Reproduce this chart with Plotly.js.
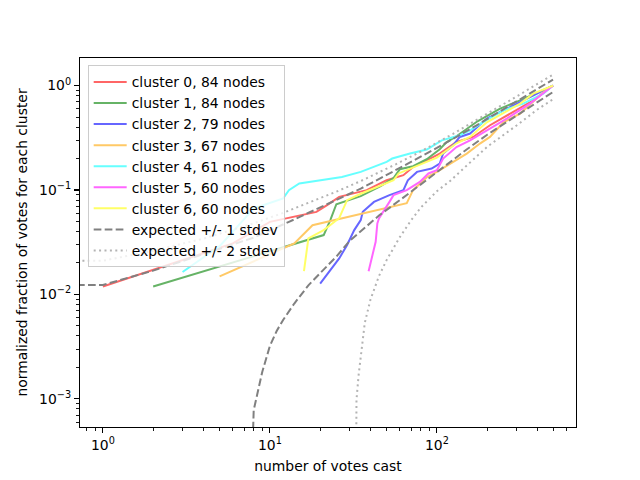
<!DOCTYPE html>
<html>
<head>
<meta charset="utf-8">
<script src="https://cdn.plot.ly/plotly-3.0.1.min.js"></script>
<style>
  body { margin: 0; background: white; }
  #chart { width: 640px; height: 480px; }
</style>
</head>
<body>
<div id="chart"></div>
<script>
// cumulative votes per cluster, normalized by cluster size
let clusterNames = ['cluster 0, 84 nodes', 'cluster 1, 84 nodes', 'cluster 2, 79 nodes', 'cluster 3, 67 nodes',
    'cluster 4, 61 nodes', 'cluster 5, 60 nodes', 'cluster 6, 60 nodes']
let clusterColors = ['rgb(255,102,102)', 'rgb(102,179,102)', 'rgb(102,102,255)', 'rgb(255,201,102)',
    'rgb(102,255,255)', 'rgb(255,102,255)', 'rgb(255,255,102)']

let c0_x = [1, 3, 6, 10, 19, 22, 26, 38, 50, 63, 72, 91, 104, 131, 165, 208, 274, 378, 496]
let c0_y = [0.0119, 0.0213, 0.0308, 0.0495, 0.0617, 0.0716, 0.0859, 0.0996, 0.124, 0.1386, 0.166, 0.2, 0.2233, 0.288, 0.322, 0.417, 0.539, 0.722, 1.0]

let c1_x = [2, 21, 23, 25, 35, 46, 55, 60, 72, 87, 104, 114, 131, 175, 239, 315, 496]
let c1_y = [0.0119, 0.037, 0.0515, 0.0731, 0.0873, 0.1087, 0.1297, 0.158, 0.169, 0.197, 0.2455, 0.286, 0.327, 0.455, 0.601, 0.722, 1.0]

let c2_x = [20, 26, 29, 32, 35, 36, 42, 52, 63, 67, 76, 93, 104, 109, 125, 137, 158, 199, 250, 361, 496]
let c2_y = [0.0127, 0.0221, 0.0297, 0.0413, 0.0514, 0.0618, 0.0769, 0.0892, 0.0996, 0.124, 0.149, 0.1606, 0.179, 0.2233, 0.268, 0.322, 0.347, 0.483, 0.579, 0.776, 1.0]

let c3_x = [5, 14, 18, 35, 66, 72, 79, 87, 100, 125, 151, 181, 208, 250, 315, 434, 496]
let c3_y = [0.0149, 0.0308, 0.046, 0.0587, 0.0748, 0.0996, 0.1154, 0.1325, 0.149, 0.186, 0.223, 0.2785, 0.322, 0.445, 0.539, 0.861, 1.0]

let c4_x = [3, 5, 8, 12, 13, 15, 27, 35, 50, 54, 69, 87, 107, 137, 158, 199, 250, 329, 434, 496]
let c4_y = [0.0164, 0.029, 0.0665, 0.083, 0.0996, 0.1154, 0.1334, 0.149, 0.186, 0.2, 0.2233, 0.2438, 0.299, 0.334, 0.373, 0.47, 0.579, 0.671, 0.837, 1.0]

let c5_x = [39, 43, 44, 45, 52, 55, 66, 79, 89, 100, 109, 131, 158, 199, 262, 361, 496]
let c5_y = [0.0167, 0.0319, 0.0478, 0.0534, 0.0769, 0.0892, 0.0996, 0.1195, 0.144, 0.1546, 0.2, 0.258, 0.299, 0.373, 0.483, 0.671, 1.0]

let c6_x = [16, 17, 21, 26, 29, 35, 48, 55, 59, 76, 100, 131, 158, 199, 315, 378, 496]
let c6_y = [0.0167, 0.0344, 0.0413, 0.0537, 0.0798, 0.092, 0.113, 0.124, 0.144, 0.169, 0.204, 0.28, 0.322, 0.445, 0.671, 0.837, 1.0]

// expected band lines (values below the axis are where the curve drops off the bottom)
let up1_x = [0.7, 1, 2, 4, 8, 13, 25, 35, 46, 72, 100, 173, 300, 496]
let up1_y = [0.0123, 0.0123, 0.0169, 0.0243, 0.035, 0.0495, 0.0797, 0.103, 0.1297, 0.189, 0.2525, 0.4164, 0.70, 1.141]
let lo1_x = [7.9, 8, 9, 10, 11, 12, 14, 17, 20, 25, 30, 35, 45, 60, 80, 100, 150, 200, 300, 400, 496]
let lo1_y = [0.0004, 0.00078, 0.00181, 0.00321, 0.00449, 0.00569, 0.00818, 0.0122, 0.016, 0.023, 0.0325, 0.0404, 0.0569, 0.0799, 0.112, 0.148, 0.243, 0.338, 0.515, 0.70, 0.867]
let up2_x = [0.7, 1, 2, 4, 8, 12, 25, 35, 57, 79, 125, 199, 315, 496]
let up2_y = [0.021, 0.021, 0.0262, 0.0342, 0.048, 0.0603, 0.0963, 0.1217, 0.177, 0.2308, 0.345, 0.531, 0.824, 1.274]
let lo2_x = [32.9, 33, 34, 35, 37, 40, 45, 50, 60, 70, 80, 100, 120, 150, 200, 300, 400, 496]
let lo2_y = [0.0004, 0.00098, 0.0017, 0.00258, 0.00533, 0.0089, 0.015, 0.0213, 0.0354, 0.0512, 0.0677, 0.0974, 0.122, 0.17, 0.259, 0.415, 0.59, 0.74]

let xTicks = [1, 10, 100]
let xTickText = ['10<sup>0</sup>', '10<sup>1</sup>', '10<sup>2</sup>']
let yTicks = [0.001, 0.01, 0.1, 1]
let yTickText = ['10<sup>\u22123</sup>', '10<sup>\u22122</sup>', '10<sup>\u22121</sup>', '10<sup>0</sup>']

function minorVals(decades) {
    var out = []
    for (d of decades) {
        for (var k = 2; k < 10; k++) out.push(k * d)
    }
    return out
}

var clx = [c0_x, c1_x, c2_x, c3_x, c4_x, c5_x, c6_x]
var cly = [c0_y, c1_y, c2_y, c3_y, c4_y, c5_y, c6_y]

var traces = []
for (var i = 0; i < clx.length; i++) {
    traces.push({
        x: clx[i], y: cly[i], name: clusterNames[i], type: 'scatter', mode: 'lines',
        line: { color: clusterColors[i], width: 2 }
    })
}

var dash1 = '7.7px,3.3px'
var dot2 = '2px,3.4px'
traces.push({ x: up1_x, y: up1_y, name: 'expected +/- 1 stdev', legendgroup: 'e1', mode: 'lines',
    line: { color: 'rgb(128,128,128)', width: 2, dash: dash1 } })
traces.push({ x: lo1_x, y: lo1_y, name: 'expected +/- 1 stdev', legendgroup: 'e1', showlegend: false, mode: 'lines',
    line: { color: 'rgb(128,128,128)', width: 2, dash: dash1 } })
traces.push({ x: up2_x, y: up2_y, name: 'expected +/- 2 stdev', legendgroup: 'e2', mode: 'lines',
    line: { color: 'rgb(179,179,179)', width: 2, dash: dot2 } })
traces.push({ x: lo2_x, y: lo2_y, name: 'expected +/- 2 stdev', legendgroup: 'e2', showlegend: false, mode: 'lines',
    line: { color: 'rgb(179,179,179)', width: 2, dash: dot2 } })

var axisCommon = {
    type: 'log', showgrid: false, zeroline: false,
    showline: true, linecolor: 'black', linewidth: 1.1, mirror: true,
    ticks: 'outside', ticklen: 5, tickwidth: 1.1, tickcolor: 'black',
    tickfont: { family: 'DejaVu Sans', size: 13.9, color: 'black' }
}

var layout = {
    width: 640, height: 480, autosize: false,
    paper_bgcolor: 'white', plot_bgcolor: 'white',
    margin: { l: 80, r: 64, t: 57.6, b: 52.8, pad: 0 },
    font: { family: 'DejaVu Sans', size: 13.9, color: 'black' },
    showlegend: true,
    legend: {
        x: 0.0155, y: 0.98, xanchor: 'left', yanchor: 'top',
        tracegroupgap: 0, itemwidth: 33,
        bgcolor: 'rgba(255,255,255,0.8)', bordercolor: '#cccccc', borderwidth: 1,
        font: { family: 'DejaVu Sans', size: 13.9, color: 'black' }
    },
    xaxis: Object.assign({}, axisCommon, {
        range: [-0.137, 2.833],
        tickmode: 'array', tickvals: xTicks, ticktext: xTickText,
        minor: { tickmode: 'array', tickvals: minorVals([0.1, 1, 10, 100]), ticks: 'outside', ticklen: 3, tickwidth: 0.9, tickcolor: 'black' },
        title: { text: 'number of votes cast', standoff: 9, font: { family: 'DejaVu Sans', size: 13.9, color: 'black' } }
    }),
    yaxis: Object.assign({}, axisCommon, {
        range: [-3.2696, 0.2639],
        tickmode: 'array', tickvals: yTicks, ticktext: yTickText,
        minor: { tickmode: 'array', tickvals: minorVals([0.0001, 0.001, 0.01, 0.1, 1]), ticks: 'outside', ticklen: 3, tickwidth: 0.9, tickcolor: 'black' },
        title: { text: 'normalized fraction of votes for each cluster', standoff: 8, font: { family: 'DejaVu Sans', size: 13.9, color: 'black' } }
    })
}

Plotly.newPlot('chart', traces, layout, { staticPlot: true, displayModeBar: false })
</script>
</body>
</html>
